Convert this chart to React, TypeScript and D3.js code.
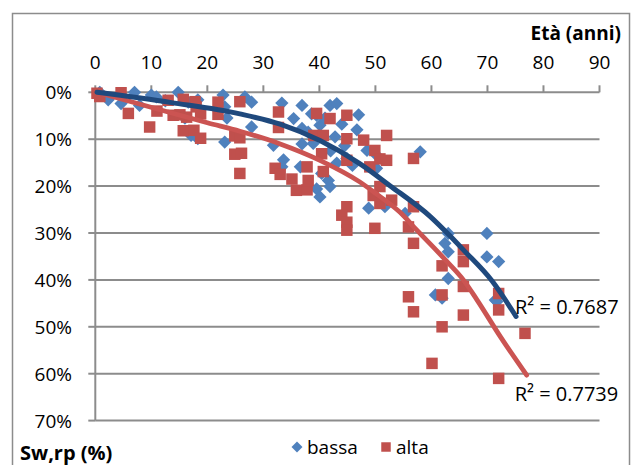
import React from 'react';
import * as d3 from 'd3';

const xTicks = [0, 10, 20, 30, 40, 50, 60, 70, 80, 90];
const yTicks = [0, 10, 20, 30, 40, 50, 60, 70];
const xTitle = 'Età (anni)';
const yTitle = 'Sw,rp (%)';
const seriesNames = ['bassa', 'alta'];
const r2Labels = ['R² = 0.7687', 'R² = 0.7739'];

// [età, Sw,rp %]
const bassa: [number, number][] = [
  [0.8, 0.0], [2.3, 1.6], [4.6, 2.4], [7.0, 0.0], [7.9, 2.8], [10.0, 0.6], [10.9, 1.0], [12.5, 1.8],
  [14.8, 0.0], [16.6, 2.1], [16.0, 5.5], [17.1, 9.2], [18.3, 1.6], [18.3, 9.9], [22.8, 0.6], [23.1, 3.1],
  [23.5, 5.5], [23.1, 10.6], [26.7, 1.0], [27.9, 2.1], [27.9, 7.4],
  [31.8, 11.3], [33.3, 2.3], [33.6, 14.4], [33.3, 15.9], [35.4, 5.6], [36.9, 2.8], [36.9, 7.7], [36.9, 11.0],
  [36.6, 15.9], [38.6, 4.6], [38.9, 10.9], [39.5, 4.9], [39.5, 20.6], [40.1, 7.0], [40.1, 22.3], [40.4, 17.3],
  [41.6, 18.8], [41.9, 2.8], [41.9, 20.1], [42.8, 9.5], [43.1, 2.4], [43.1, 15.1], [44.9, 14.1], [45.9, 15.6],
  [46.7, 8.0], [47.0, 4.8], [48.5, 12.4], [48.8, 24.7], [50.2, 16.2], [50.2, 13.4], [51.7, 24.4], [55.3, 25.8],
  [58.0, 12.7], [41.0, 5.5], [42.0, 12.5], [38.0, 8.5], [44.0, 6.8], [44.5, 11.4],
  [60.7, 43.2], [61.9, 43.9], [62.4, 32.2], [63.0, 30.1], [63.0, 34.0], [63.0, 39.7], [69.9, 30.1],
  [69.9, 35.1], [72.0, 36.1], [71.7, 44.6], [71.4, 44.3],
];

const alta: [number, number][] = [
  [0.3, 0.2], [0.8, 0.9], [4.6, 0.1], [5.9, 4.5], [9.7, 7.4], [11.0, 4.0], [13.0, 1.7], [13.9, 4.9],
  [15.7, 1.5], [15.1, 4.8], [15.7, 8.2], [16.3, 5.3], [17.6, 8.1], [18.0, 3.1], [17.8, 2.0], [18.8, 4.6],
  [18.8, 9.8], [21.9, 2.1], [21.9, 4.7], [24.9, 9.3], [25.8, 2.0], [25.8, 9.7], [24.9, 13.2], [26.1, 13.0],
  [25.8, 17.3],
  [32.1, 16.2], [32.7, 4.2], [32.7, 7.5], [33.0, 17.5], [35.1, 18.5], [35.9, 20.9], [37.8, 20.8], [37.8, 15.9],
  [38.0, 18.8], [39.5, 4.5], [39.0, 9.2], [40.7, 9.2], [40.4, 13.1], [40.7, 16.9], [41.9, 5.6], [44.9, 4.9],
  [44.9, 9.9], [44.9, 14.5], [47.9, 10.2], [49.9, 12.4], [52.0, 9.2], [50.8, 14.2], [52.0, 14.5], [49.0, 15.9],
  [56.8, 14.1],
  [44.9, 24.4], [44.0, 26.2], [44.9, 27.7], [44.9, 29.4], [49.9, 29.0], [49.6, 22.0], [50.8, 20.1], [50.8, 23.7],
  [52.9, 23.0], [56.8, 24.4], [55.9, 28.7], [56.8, 32.2],
  [61.9, 37.0], [65.7, 33.6], [65.7, 36.1], [65.7, 41.4], [61.9, 43.2], [65.7, 47.5], [72.0, 42.9], [72.0, 46.4],
  [61.9, 50.0], [55.9, 43.6], [56.8, 46.8], [76.7, 51.4], [60.1, 57.8], [72.0, 61.0],
];

const bassaTrend: [number, number][] = [
  [0.3, 0.0], [13.6, 2.2], [25.8, 4.6], [33.0, 6.8], [40.1, 10.3], [47.2, 15.2], [52.6, 19.9],
  [59.8, 26.5], [63.3, 30.6], [65.7, 33.6], [70.8, 40.2], [75.1, 47.8],
];
const altaTrend: [number, number][] = [
  [0.3, 0.0], [13.0, 4.2], [20.0, 6.5], [25.8, 8.3], [33.0, 11.0], [40.1, 14.5], [47.2, 19.1],
  [50.0, 21.5], [54.4, 25.6], [57.4, 29.4], [62.7, 36.0], [65.7, 40.0], [68.1, 44.2], [72.3, 52.1], [77.0, 60.3],
];

const FONT = "'Open Sans', 'Noto Sans', sans-serif";
const BLUE = '#4F81BD';
const RED = '#C0504D';
const GRID = '#8C8C8C';

export default function App() {
  const W = 633;
  const H = 465;
  const x = d3.scaleLinear().domain([0, 90]).range([95.3, 599.5]);
  const y = d3.scaleLinear().domain([0, 70]).range([92.3, 420.6]);
  const line = d3
    .line<[number, number]>()
    .x((d) => x(d[0]))
    .y((d) => y(d[1]))
    .curve(d3.curveMonotoneX);
  const diamond = d3.symbol().type(d3.symbolSquare).size(88)() as string;
  const square = d3.symbol().type(d3.symbolSquare).size(132)() as string;
  const diamondSmall = d3.symbol().type(d3.symbolSquare).size(60)() as string;
  const squareSmall = d3.symbol().type(d3.symbolSquare).size(90)() as string;

  const bEnd = bassaTrend[bassaTrend.length - 1];
  const aEnd = altaTrend[altaTrend.length - 1];

  return (
    <svg
      width={W}
      height={H}
      style={{ position: 'absolute', left: 0, top: 0, background: '#fff' }}
      fontFamily={FONT}
    >
      <rect x={0} y={0} width={W} height={H} fill="#fff" />
      <rect x={12.5} y={13.5} width={617} height={470} fill="none" stroke="#8C8C8C" strokeWidth={1.5} />

      {/* gridlines */}
      {yTicks.slice(1).map((t) => (
        <line key={'g' + t} x1={x(0)} x2={x(90)} y1={y(t)} y2={y(t)} stroke={GRID} strokeWidth={2} />
      ))}
      {/* y axis */}
      <line x1={x(0)} x2={x(0)} y1={y(0)} y2={y(70)} stroke={GRID} strokeWidth={2} />
      {yTicks.map((t) => (
        <g key={'y' + t}>
          <line x1={x(0) - 7} x2={x(0)} y1={y(t)} y2={y(t)} stroke={GRID} strokeWidth={2} />
          <text x={72} y={y(t)} textAnchor="end" dominantBaseline="central" fontSize={19} fill="#000">
            {t}%
          </text>
        </g>
      ))}
      {/* x axis (top) */}
      <line x1={x(0)} x2={x(90)} y1={y(0)} y2={y(0)} stroke={GRID} strokeWidth={2} />
      {xTicks.map((t) => (
        <g key={'x' + t}>
          <line x1={x(t)} x2={x(t)} y1={y(0) - 7} y2={y(0)} stroke={GRID} strokeWidth={2} />
          <text x={x(t)} y={62} textAnchor="middle" dominantBaseline="central" fontSize={19} fill="#000">
            {t}
          </text>
        </g>
      ))}

      {/* markers */}
      {bassa.map((d, i) => (
        <path key={'b' + i} d={diamond} transform={`translate(${x(d[0])},${y(d[1])}) rotate(45)`} fill={BLUE} />
      ))}
      {alta.map((d, i) => (
        <path key={'a' + i} d={square} transform={`translate(${x(d[0])},${y(d[1])})`} fill={RED} />
      ))}

      {/* trendlines */}
      <path d={line(altaTrend) as string} fill="none" stroke="#CB5452" strokeWidth={4.8} strokeLinecap="round" />
      <path d={line(bassaTrend) as string} fill="none" stroke="#1F497D" strokeWidth={5} strokeLinecap="round" />

      {/* R2 labels */}
      <text x={x(bEnd[0]) - 1} y={y(bEnd[1]) - 10} dominantBaseline="central" fontSize={20} fill="#000">
        {r2Labels[0]}
      </text>
      <text x={x(aEnd[0]) - 12} y={y(aEnd[1]) + 18} dominantBaseline="central" fontSize={20} fill="#000">
        {r2Labels[1]}
      </text>

      {/* titles */}
      <text x={621} y={33} textAnchor="end" dominantBaseline="central" fontSize={19} fontWeight="bold" fill="#000">
        {xTitle}
      </text>
      <text x={20} y={452} dominantBaseline="central" fontSize={20} fontWeight="bold" fill="#000">
        {yTitle}
      </text>

      {/* legend */}
      <path d={diamondSmall} transform="translate(297,447) rotate(45)" fill={BLUE} />
      <text x={307} y={447} dominantBaseline="central" fontSize={19} fill="#000">
        {seriesNames[0]}
      </text>
      <path d={squareSmall} transform="translate(386,447)" fill={RED} />
      <text x={396} y={447} dominantBaseline="central" fontSize={19} fill="#000">
        {seriesNames[1]}
      </text>
    </svg>
  );
}
